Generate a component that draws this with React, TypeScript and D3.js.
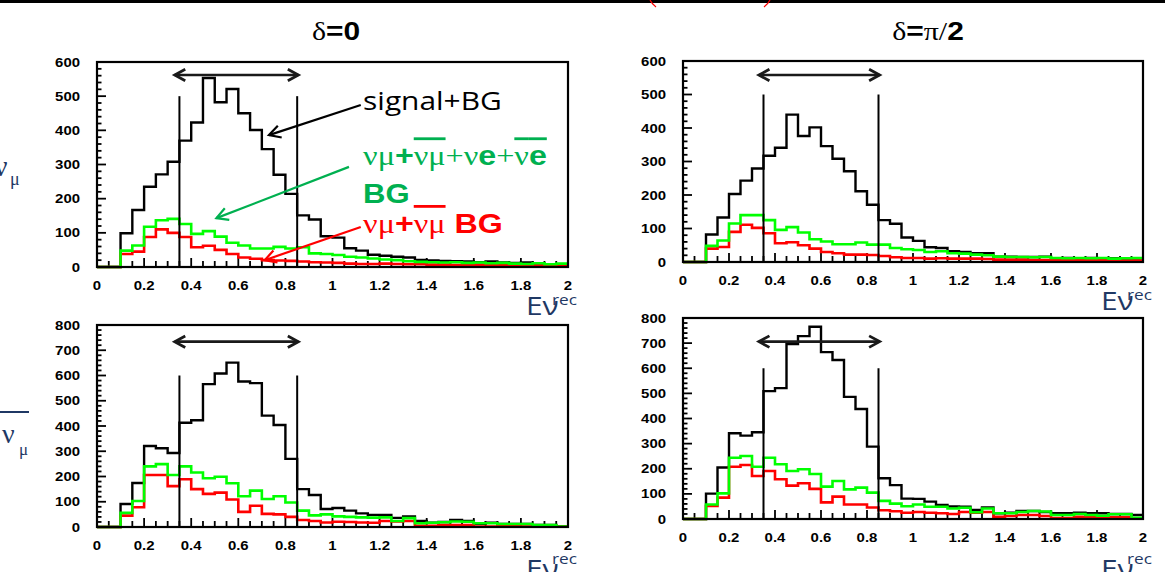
import React from 'react';
import * as d3 from 'd3';

const W = 1165;
const H = 572;
const BIN = 0.05;
const NBINS = 40;
const SX = 1.15; // the slide is stretched a bit horizontally

const xTickValues = [0, 0.2, 0.4, 0.6, 0.8, 1, 1.2, 1.4, 1.6, 1.8, 2];
const xTickLabels = ['0', '0.2', '0.4', '0.6', '0.8', '1', '1.2', '1.4', '1.6', '1.8', '2'];
const yTicks600 = [0, 100, 200, 300, 400, 500, 600];
const yTicks800 = [0, 100, 200, 300, 400, 500, 600, 700, 800];

// nu_mu, delta = 0
const numuD0Total = [0, 0, 99, 167, 235, 271, 308, 370, 423, 553, 482, 521, 450, 401, 345, 270, 214, 151, 139, 90, 86, 55, 48, 36, 33, 30, 28, 21, 19, 18, 17, 16, 14, 16, 13, 12, 13, 10, 8, 8];
const numuD0AllBg = [0, 0, 48, 63, 118, 137, 141, 126, 97, 105, 89, 71, 63, 54, 54, 59, 54, 58, 40, 38, 35, 30, 28, 25, 22, 20, 17, 15, 14, 13, 14, 12, 13, 11, 12, 10, 9, 11, 8, 10];
const numuD0NumuBg = [0, 0, 38, 45, 88, 110, 100, 88, 58, 62, 50, 38, 28, 24, 20, 19, 18, 16, 14, 13, 12, 10, 9, 9, 10, 9, 8, 8, 7, 7, 6, 7, 6, 5, 6, 5, 5, 4, 4, 4];

// nu_mu, delta = pi/2
const numuD90Total = [0, 0, 82, 133, 203, 243, 279, 317, 341, 440, 376, 402, 346, 308, 271, 211, 171, 125, 114, 73, 63, 44, 42, 32, 30, 26, 26, 16, 16, 15, 15, 16, 11, 12, 10, 12, 10, 11, 9, 10];
const numuD90AllBg = [0, 0, 48, 64, 115, 140, 140, 125, 96, 104, 88, 68, 61, 53, 53, 58, 52, 52, 42, 38, 36, 30, 32, 26, 25, 22, 20, 16, 15, 15, 14, 15, 12, 11, 12, 11, 12, 10, 11, 12];
const numuD90NumuBg = [0, 0, 40, 45, 90, 111, 102, 86, 56, 59, 50, 40, 30, 26, 22, 22, 21, 18, 14, 12, 12, 10, 11, 10, 10, 10, 9, 7, 7, 7, 6, 6, 7, 5, 5, 6, 5, 5, 4, 4];

// anti nu_mu, delta = 0
const numubarD0Total = [0, 0, 91, 174, 321, 312, 293, 413, 423, 566, 608, 651, 576, 570, 441, 404, 270, 150, 127, 71, 75, 65, 54, 48, 48, 36, 42, 24, 17, 20, 28, 24, 13, 17, 12, 12, 12, 8, 8, 3];
const numubarD0AllBg = [0, 0, 56, 103, 240, 249, 206, 240, 216, 193, 199, 173, 122, 144, 111, 122, 97, 65, 46, 50, 42, 40, 38, 37, 38, 24, 35, 15, 17, 19, 22, 21, 15, 15, 12, 12, 12, 8, 8, 2];
const numubarD0NumuBg = [0, 0, 45, 78, 206, 206, 162, 189, 150, 131, 136, 109, 60, 84, 52, 50, 40, 28, 24, 18, 21, 20, 18, 17, 24, 22, 24, 5, 5, 8, 8, 8, 2, 2, 4, 4, 2, 2, 3, 2];

// anti nu_mu, delta = pi/2
const numubarD90Total = [0, 0, 101, 205, 341, 332, 345, 509, 521, 696, 728, 765, 664, 633, 486, 438, 288, 162, 135, 81, 80, 69, 56, 50, 49, 36, 46, 23, 25, 32, 32, 28, 23, 23, 25, 23, 23, 20, 20, 16];
const numubarD90AllBg = [0, 0, 58, 102, 244, 251, 208, 244, 218, 191, 198, 179, 129, 151, 118, 125, 105, 72, 61, 51, 58, 49, 49, 42, 45, 27, 42, 23, 23, 28, 32, 30, 16, 16, 20, 16, 13, 19, 19, 5];
const numubarD90NumuBg = [0, 0, 52, 85, 208, 215, 171, 191, 158, 133, 142, 120, 66, 89, 58, 58, 46, 35, 31, 25, 28, 25, 23, 20, 28, 25, 28, 9, 12, 16, 16, 12, 4, 4, 9, 7, 7, 7, 7, 3];

const cutLow = 0.35;
const cutHigh = 0.85;
const windowFrom = 0.33;
const windowTo = 0.855;

const BLACK = '#000';
const HRED = '#ff0000';
const HGREEN = '#00ff00';
const TGREEN = '#00b050';
const NAVY = '#1f3864';

const SANS = '"Liberation Sans", Arial, sans-serif';
const SERIF = '"Liberation Serif", "Times New Roman", serif';
const SLIDE = '"Open Sans", sans-serif';

const panels = [
  { key: 'tl', total: numuD0Total, allBg: numuD0AllBg, numuBg: numuD0NumuBg, yMax: 600, yTicks: yTicks600, cutTop: 500, arrowY: 562, box: { x0: 97, x1: 568, y0: 62, y1: 267 } },
  { key: 'tr', total: numuD90Total, allBg: numuD90AllBg, numuBg: numuD90NumuBg, yMax: 600, yTicks: yTicks600, cutTop: 500, arrowY: 558, box: { x0: 683, x1: 1143, y0: 61, y1: 262 } },
  { key: 'bl', total: numubarD0Total, allBg: numubarD0AllBg, numuBg: numubarD0NumuBg, yMax: 800, yTicks: yTicks800, cutTop: 600, arrowY: 734, box: { x0: 97, x1: 568, y0: 325, y1: 527 } },
  { key: 'br', total: numubarD90Total, allBg: numubarD90AllBg, numuBg: numubarD90NumuBg, yMax: 800, yTicks: yTicks800, cutTop: 600, arrowY: 706, box: { x0: 683, x1: 1143, y0: 318, y1: 519 } },
];

const edges = d3.range(NBINS + 1).map((i) => i * BIN);

function stepPath(values: number[], x: any, y: any) {
  const pts: [number, number][] = values.map((v, i) => [edges[i], v]);
  pts.push([edges[NBINS], values[NBINS - 1]]);
  return d3
    .line<[number, number]>()
    .x((d) => x(d[0]))
    .y((d) => y(d[1]))
    .curve(d3.curveStepAfter)(pts) as string;
}

function T({ x, y, anchor = 'start', children, ...rest }: any) {
  return (
    <text transform={`translate(${x},${y}) scale(${SX},1)`} textAnchor={anchor} {...rest}>
      {children}
    </text>
  );
}

function ArrowHead({ x, y, angle, size = 11, color = BLACK, width = 2.2 }: any) {
  // open chevron, angle = direction the arrow points (radians)
  const a1 = angle + Math.PI - 0.5;
  const a2 = angle + Math.PI + 0.5;
  const d = `M${x + size * Math.cos(a1)},${y + size * Math.sin(a1)}L${x},${y}L${x + size * Math.cos(a2)},${y + size * Math.sin(a2)}`;
  return <path d={d} fill="none" stroke={color} strokeWidth={width} strokeLinejoin="miter" />;
}

function Arrow({ x1, y1, x2, y2, color, width = 2.2 }: any) {
  const ang = Math.atan2(y2 - y1, x2 - x1);
  return (
    <g>
      <line x1={x1} y1={y1} x2={x2} y2={y2} stroke={color} strokeWidth={width} />
      <ArrowHead x={x2} y={y2} angle={ang} size={13} color={color} width={width} />
    </g>
  );
}

function HistPanel({ p }: any) {
  const { box } = p;
  const x = d3.scaleLinear().domain([0, 2]).range([box.x0, box.x1]);
  const y = d3.scaleLinear().domain([0, p.yMax]).range([box.y1, box.y0]);
  const minorX = d3.range(0, NBINS + 1).map((i) => i * BIN);
  const minorY = d3.range(0, p.yMax / 20 + 1).map((i) => i * 20);
  const ay = y(p.arrowY);

  return (
    <g>
      {/* axis ticks */}
      {minorY.map((v) => (
        <line key={'my' + v} x1={box.x0} x2={box.x0 + (v % 100 === 0 ? 9 : 4.5)} y1={y(v)} y2={y(v)} stroke={BLACK} strokeWidth={1.8} />
      ))}
      {minorX.map((v, i) => (
        <line key={'mx' + i} x1={x(v)} x2={x(v)} y1={box.y1} y2={box.y1 - (i % 4 === 0 ? 9 : 6)} stroke={BLACK} strokeWidth={1.8} />
      ))}

      {/* histograms */}
      <path d={stepPath(p.total, x, y)} fill="none" stroke={BLACK} strokeWidth={2.4} />
      <path d={stepPath(p.numuBg, x, y)} fill="none" stroke={HRED} strokeWidth={2.6} />
      <path d={stepPath(p.allBg, x, y)} fill="none" stroke={HGREEN} strokeWidth={2.6} />

      {/* frame */}
      <rect x={box.x0} y={box.y0} width={box.x1 - box.x0} height={box.y1 - box.y0} fill="none" stroke={BLACK} strokeWidth={2.2} />

      {/* cut window */}
      {[cutLow, cutHigh].map((c) => (
        <line key={'c' + c} x1={x(c)} x2={x(c)} y1={box.y1} y2={y(p.cutTop)} stroke={BLACK} strokeWidth={2} />
      ))}
      <line x1={x(windowFrom)} x2={x(windowTo)} y1={ay} y2={ay} stroke="#1a1a1a" strokeWidth={2.6} />
      <ArrowHead x={x(windowFrom)} y={ay} angle={Math.PI} size={12} color="#1a1a1a" width={2.8} />
      <ArrowHead x={x(windowTo)} y={ay} angle={0} size={12} color="#1a1a1a" width={2.8} />

      {/* tick labels */}
      {p.yTicks.map((v: number) => (
        <T key={'yl' + v} x={box.x0 - 17} y={y(v) + 4.5} anchor="end" fontFamily={SANS} fontWeight="bold" fontSize={13}>
          {v}
        </T>
      ))}
      {xTickValues.map((v, i) => (
        <T key={'xl' + v} x={x(v)} y={box.y1 + 23} anchor="middle" fontFamily={SANS} fontWeight="bold" fontSize={13}>
          {xTickLabels[i]}
        </T>
      ))}

      {/* E nu rec */}
      <T x={box.x1 - 42} y={p.key[0] === 't' ? box.y1 + 48 : 578} fontFamily={SLIDE} fontSize={26} fill={NAVY}>
        Eν
      </T>
      <T x={box.x1 - 16} y={p.key[0] === 't' ? box.y1 + 38 : 564} fontFamily={SLIDE} fontSize={15} fill={NAVY}>
        rec
      </T>
    </g>
  );
}

function Legend() {
  const box = panels[0].box;
  const x = d3.scaleLinear().domain([0, 2]).range([box.x0, box.x1]);
  const y = d3.scaleLinear().domain([0, 600]).range([box.y1, box.y0]);
  const serif = { fontFamily: SERIF };
  const sansB = { fontFamily: SANS, fontWeight: 'bold' as const };
  const over = { textDecoration: 'overline', textDecorationThickness: '2.5px' } as any;
  return (
    <g>
      <Arrow x1={x(1.12)} y1={y(474)} x2={x(0.73)} y2={y(386)} color={BLACK} />
      <Arrow x1={x(1.07)} y1={y(293)} x2={x(0.507)} y2={y(143)} color={TGREEN} />
      <Arrow x1={x(1.12)} y1={y(117)} x2={x(0.712)} y2={y(20)} color={HRED} />

      <T x={x(1.13)} y={y(459)} fontFamily={SLIDE} fontSize={26} fill={BLACK}>
        signal+BG
      </T>
      <T x={x(1.13)} y={y(298)} fontSize={28} fill={TGREEN}>
        <tspan {...serif}>νμ</tspan>
        <tspan {...sansB}>+</tspan>
        <tspan {...serif} style={over}>νμ</tspan>
        <tspan {...serif}>+ν</tspan>
        <tspan {...sansB}>e</tspan>
        <tspan {...serif}>+</tspan>
        <tspan {...serif} style={over}>ν</tspan>
        <tspan {...sansB} style={over}>e</tspan>
      </T>
      <T x={x(1.13)} y={y(187)} fontSize={27} fill={TGREEN} {...sansB}>
        BG
      </T>
      <T x={x(1.13)} y={y(100)} fontSize={28} fill={HRED}>
        <tspan {...serif}>νμ</tspan>
        <tspan {...sansB}>+</tspan>
        <tspan {...serif} style={over}>νμ</tspan>
        <tspan {...sansB}> BG</tspan>
      </T>
    </g>
  );
}

export default function App() {
  return (
    <div style={{ position: 'absolute', left: 0, top: 0 }}>
      <svg width={W} height={H} viewBox={`0 0 ${W} ${H}`} style={{ display: 'block', background: '#fff' }}>
        <rect x={0} y={0} width={W} height={3} fill="#000" />
        <path d="M650,0 Q652,4 656,7" fill="none" stroke={HRED} strokeWidth={1.2} />
        <path d="M770,0 Q768,4 764,7" fill="none" stroke={HRED} strokeWidth={1.2} />

        {/* titles */}
        <T x={336} y={40} anchor="middle" fontSize={26} fill={BLACK}>
          <tspan fontFamily={SERIF}>δ</tspan>
          <tspan fontFamily={SANS} fontWeight="bold">=0</tspan>
        </T>
        <T x={928} y={40} anchor="middle" fontSize={26} fill={BLACK}>
          <tspan fontFamily={SERIF}>δ</tspan>
          <tspan fontFamily={SANS} fontWeight="bold">=</tspan>
          <tspan fontFamily={SERIF}>π/</tspan>
          <tspan fontFamily={SANS} fontWeight="bold">2</tspan>
        </T>

        {/* side labels */}
        <text x={-6} y={176} fontFamily={SERIF} fontSize={30} fill={NAVY}>ν</text>
        <text x={10} y={185} fontFamily={SERIF} fontSize={18} fill={NAVY}>μ</text>
        <line x1={0} x2={29} y1={412} y2={412} stroke={NAVY} strokeWidth={2} />
        <text x={2} y={443} fontFamily={SERIF} fontSize={28} fill={NAVY}>ν</text>
        <text x={19} y={455} fontFamily={SERIF} fontSize={17} fill={NAVY}>μ</text>

        {panels.map((p) => (
          <HistPanel key={p.key} p={p} />
        ))}
        <Legend />
      </svg>
    </div>
  );
}
